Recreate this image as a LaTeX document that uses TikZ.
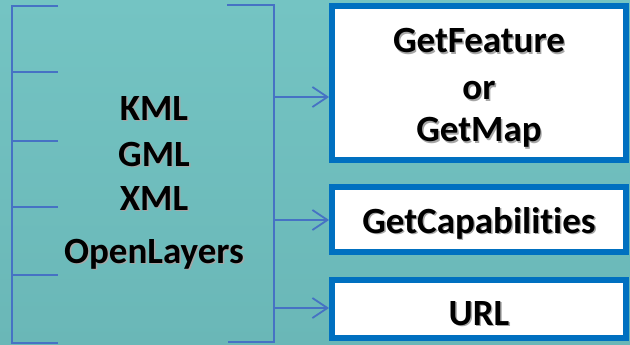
\documentclass[tikz,border=0pt]{standalone}
\usepackage{fontspec}
\setmainfont{Carlito}[Ligatures={NoCommon}]
\usetikzlibrary{arrows.meta}
\definecolor{bgtop}{RGB}{116,196,195}
\definecolor{bgbot}{RGB}{106,183,183}
\definecolor{brk}{RGB}{70,114,196}
\definecolor{boxblue}{RGB}{0,112,192}
\newcommand\shtxt[1]{\makebox[0pt][l]{\hspace{1.4pt}\raisebox{-1.4pt}{\textcolor{black!35}{#1}}}#1}
\begin{document}
\begin{tikzpicture}[x=1pt,y=-1pt,
  brline/.style={draw=brk,line width=1.8pt},
  arr/.style={brline,-{Straight Barb[length=15pt,width=20pt,line width=1.8pt]}},
  bigtxt/.style={font=\fontsize{37}{45}\selectfont\bfseries,align=center,inner sep=0pt},
  outbox/.style={bigtxt,draw=boxblue,fill=white,line width=6pt,minimum width=294pt}
]
\fill[top color=bgtop,bottom color=bgbot] (0,0) rectangle (630,345);
\useasboundingbox (0,0) rectangle (630,345);

% left bracket
\coordinate (lt) at (12,6);
\coordinate (lb) at (12,343);
\draw[brline] (58,6) -- (lt) -- (lb) -- (58,343);
\foreach \yy in {72,141,207,275} \draw[brline] (12,\yy) -- (58,\yy);

% formats text
\node[bigtxt,anchor=base] (fmt) at (154,263)
  {\shtxt{KML}\\[1pt]\shtxt{GML}\\[-1pt]\shtxt{XML}\\[8pt]\shtxt{OpenLayers}};

% right bracket
\coordinate (rt) at (274,5);
\coordinate (rb) at (274,342);
\draw[brline] (227,5) -- (rt) -- (rb) -- (228,342);
\coordinate (r1) at (274,97);
\coordinate (r2) at (274,220);
\coordinate (r3) at (274,308);

% boxes
\node[outbox,minimum height=154pt] (box1) at (479,83)
  {\rule{0pt}{36pt}\shtxt{GetFeature}\\[2pt]\shtxt{or}\\[-3pt]\shtxt{GetMap}};
\node[outbox,minimum height=65pt,text height=30pt,text depth=3pt] (box2) at (479,219.5)
  {\shtxt{GetCapabilities}};
\node[outbox,minimum height=58pt,text height=32pt,text depth=0pt] (box3) at (479,309)
  {\shtxt{URL}};

% arrows
\draw[arr] (r1) -- (r1 -| box1.west);
\draw[arr] (r2) -- (r2 -| box2.west);
\draw[arr] (r3) -- (r3 -| box3.west);
\end{tikzpicture}
\end{document}
